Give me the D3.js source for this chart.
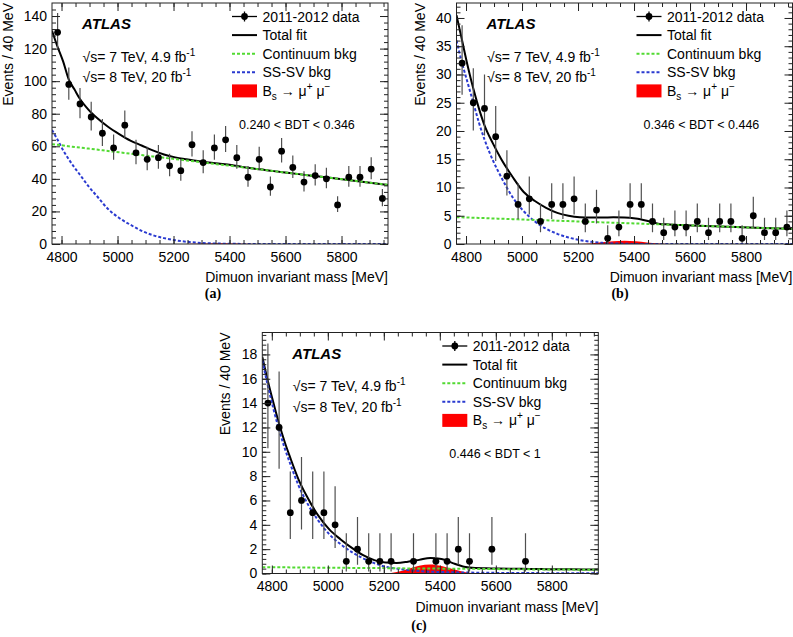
<!DOCTYPE html>
<html><head><meta charset="utf-8">
<script src="https://cdn.jsdelivr.net/npm/d3@7"></script>
<style>
body{margin:0;background:#fff}
svg{display:block}
text{font-family:"Liberation Sans",Arial,Helvetica,sans-serif;fill:#000}
</style>
</head><body>
<svg id="chart" width="793" height="637"></svg>
<script>
// ---------------- DATA ----------------
const binCenters = [4786,4826,4866,4906,4946,4986,5026,5066,5106,5146,5186,5226,5266,5306,5346,5386,5426,5466,5506,5546,5586,5626,5666,5706,5746,5786,5826,5866,5906,5946];

const countsA = [130,98,86,78,68,59,73,56,52,53,48,45,61,50,59,64,53,41,52,35,57,47,38,42,40,24,41,41,46,28];
const errDownA = [10.9,9.4,8.8,8.3,7.8,7.2,8.0,7.0,6.7,6.8,6.4,6.2,7.3,6.6,7.2,7.5,6.8,5.9,6.7,5.4,7.0,6.4,5.7,6.0,5.8,4.4,5.9,5.9,6.3,4.8];
const errUpA = [11.9,10.4,9.8,9.3,8.8,8.2,9.0,8.0,7.7,7.8,7.4,7.2,8.3,7.6,8.2,8.5,7.8,6.9,7.7,6.4,8.1,7.4,6.7,7.0,6.8,5.4,6.9,6.9,7.3,5.8];

const countsB = [32,25,24,19,12,7,8,4,7,7,8,4,6,1,3,7,7,4,2,3,3,4,2,4,4,1,5,2,2,3];
const errDownB = [5.6,4.9,4.8,4.3,3.4,2.58,2.77,1.91,2.58,2.58,2.77,1.91,2.38,0.83,1.63,2.58,2.58,1.91,1.29,1.63,1.63,1.91,1.29,1.91,1.91,0.83,2.16,1.29,1.29,1.63];
const errUpB = [6.7,6.1,6.0,5.4,4.6,3.77,3.95,3.16,3.77,3.77,3.95,3.16,3.58,2.30,2.92,3.77,3.77,3.16,2.64,2.92,2.92,3.16,2.64,3.16,3.16,2.30,3.38,2.64,2.64,2.92];

const countsC = [14,12,5,6,5,5,4,1,2,1,1,1,0,1,0,1,1,2,1,0,2,0,0,1,0,0,0,0,0,0];
const errDownC = [3.7,3.4,2.16,2.38,2.16,2.16,1.91,0.83,1.29,0.83,0.83,0.83,0,0.83,0,0.83,0.83,1.29,0.83,0,1.29,0,0,0.83,0,0,0,0,0,0];
const errUpC = [4.9,4.6,3.38,3.58,3.38,3.38,3.16,2.30,2.64,2.30,2.30,2.30,0,2.30,0,2.30,2.30,2.64,2.30,0,2.64,0,0,2.30,0,0,0,0,0,0];

const fitMass = [4766,4786,4806,4826,4846,4866,4896,4926,4966,5006,5046,5086,5126,5166,5206,5246,5286,5326,5366,5406,5446,5486,5526,5566,5606,5686,5766,5866,5966];

const totalA = [131,121,112,101,95,89,82.5,77.5,72,67.5,63.5,60.5,57.5,55,53.2,52,51,50,49.3,48.5,47.3,46.3,45.5,44.6,43.8,42.1,40.5,38.4,36.3];
const contA  = [61.3,60.9,60.5,60.0,59.6,59.2,58.6,58.0,57.1,56.3,55.5,54.6,53.8,53.0,52.1,51.3,50.5,49.6,48.8,48.0,47.1,46.3,45.5,44.6,43.8,42.1,40.5,38.4,36.3];
const sssvA  = [70,64,57.5,52,47,42.5,35.5,29.5,21.5,16,11.8,8.1,5.4,3.6,2.3,1.4,0.8,0.45,0.25,0.12,0.06,0.03,0,0,0,0,0,0,0];

const totalB = [40.5,36,31.5,27.5,24,21,17.8,15,11.9,9.2,7.6,6.4,5.5,5.0,4.75,4.7,4.7,4.72,4.7,4.5,4.1,3.6,3.45,3.36,3.29,3.14,3.0,2.83,2.65];
const contB  = [4.75,4.72,4.68,4.65,4.61,4.58,4.52,4.47,4.40,4.33,4.26,4.19,4.12,4.05,3.98,3.91,3.84,3.77,3.70,3.63,3.56,3.49,3.42,3.35,3.28,3.14,3.0,2.83,2.65];
const sssvB  = [36,32,28.5,25,21.5,18.5,14.8,11.8,8.3,5.8,4.0,2.7,1.8,1.15,0.7,0.4,0.2,0.1,0.05,0,0,0,0,0,0,0,0,0,0];

const totalC = [17.8,15.8,14.0,12.3,10.8,9.5,7.7,6.3,4.75,3.6,2.8,2.1,1.5,1.1,0.9,0.87,0.97,1.12,1.28,1.2,0.85,0.56,0.45,0.43,0.41,0.39,0.36,0.34,0.32];
const contC  = [0.52,0.52,0.51,0.51,0.51,0.50,0.50,0.49,0.48,0.48,0.47,0.46,0.45,0.45,0.44,0.43,0.42,0.42,0.41,0.40,0.39,0.39,0.38,0.37,0.36,0.35,0.33,0.32,0.30];
const sssvC  = [17.5,15.4,13.5,11.8,10.3,9.0,7.2,5.8,4.35,3.2,2.4,1.75,1.25,0.85,0.55,0.4,0.28,0.2,0.15,0.12,0.1,0.08,0.07,0.06,0.05,0.04,0.03,0.02,0.02];

const bsMass = [5206,5246,5286,5326,5366,5406,5446,5486,5526];
const bsA = [0,0.06,0.2,0.34,0.4,0.33,0.19,0.06,0];
const bsB = [0,0.1,0.3,0.5,0.58,0.48,0.28,0.09,0];
const bsC = [0,0.12,0.38,0.64,0.74,0.62,0.36,0.12,0];

const xTicks = [4800,5000,5200,5400,5600,5800];
const yTicksA = [0,20,40,60,80,100,120,140];
const yTicksB = [0,5,10,15,20,25,30,35,40];
const yTicksC = [0,2,4,6,8,10,12,14,16,18];

const bdtLabels = ["0.240 < BDT < 0.346","0.346 < BDT < 0.446","0.446 < BDT < 1"];
const panelLabels = ["(a)","(b)","(c)"];
const legendLabels = ["2011-2012 data","Total fit","Continuum bkg","SS-SV bkg"];

// ---------------- LAYOUT ----------------
const COL = {green:"#52da32", blue:"#2a3ad0", red:"#ff0000", black:"#000"};
const svg = d3.select("#chart");
const W = 336, H = 241;
const xDomain = [4766, 5966];

const panels = [
  {id:"a", left:52, top:3, ymax:148, yTicks:yTicksA, yMinor:4, ytitleOff:44, labelX:213, labelY:298,
   counts:countsA, eDn:errDownA, eUp:errUpA, total:totalA, cont:contA, sssv:sssvA, bs:bsA, bdt:bdtLabels[0], name:panelLabels[0]},
  {id:"b", left:456.5, top:3, ymax:42.65, yTicks:yTicksB, yMinor:1, ytitleOff:36.5, labelX:620, labelY:298,
   counts:countsB, eDn:errDownB, eUp:errUpB, total:totalB, cont:contB, sssv:sssvB, bs:bsB, bdt:bdtLabels[1], name:panelLabels[1]},
  {id:"c", left:262.3, top:332.5, ymax:19.8, yTicks:yTicksC, yMinor:0.4, ytitleOff:37, labelX:419, labelY:630,
   counts:countsC, eDn:errDownC, eUp:errUpC, total:totalC, cont:contC, sssv:sssvC, bs:bsC, bdt:bdtLabels[2], name:panelLabels[2]}
];

function drawPanel(p){
  const g = svg.append("g").attr("transform",`translate(${p.left},${p.top})`);
  const x = d3.scaleLinear().domain(xDomain).range([0,W]);
  const y = d3.scaleLinear().domain([0,p.ymax]).range([H,0]);

  const clipId = "clip-"+p.id;
  svg.append("clipPath").attr("id",clipId).append("rect").attr("x",0).attr("y",0).attr("width",W).attr("height",H);
  const plot = g.append("g").attr("clip-path",`url(#${clipId})`);

  // Bs signal area
  const area = d3.area().x((d,i)=>x(bsMass[i])).y0(y(0)).y1(d=>y(d)).curve(d3.curveMonotoneX);
  plot.append("path").datum(p.bs).attr("d",area).attr("fill",COL.red);

  const line = d3.line().x((d,i)=>x(fitMass[i])).y(d=>y(d)).curve(d3.curveMonotoneX);
  plot.append("path").datum(p.total).attr("d",line).attr("fill","none").attr("stroke",COL.black).attr("stroke-width",2);
  plot.append("path").datum(p.sssv).attr("d",line).attr("fill","none").attr("stroke",COL.blue).attr("stroke-width",2).attr("stroke-dasharray","3,2");
  plot.append("path").datum(p.cont).attr("d",line).attr("fill","none").attr("stroke",COL.green).attr("stroke-width",2).attr("stroke-dasharray","3,2");

  // data points
  const pts = binCenters.map((m,i)=>({m, n:p.counts[i], dn:p.eDn[i], up:p.eUp[i]})).filter(d=>d.n>0);
  const dg = plot.append("g");
  dg.selectAll("line.err").data(pts).join("line").attr("class","err")
    .attr("x1",d=>x(d.m)).attr("x2",d=>x(d.m))
    .attr("y1",d=>y(d.n-d.dn)).attr("y2",d=>y(d.n+d.up))
    .attr("stroke","#505050").attr("stroke-width",1.2);
  dg.selectAll("circle").data(pts).join("circle")
    .attr("cx",d=>x(d.m)).attr("cy",d=>y(d.n)).attr("r",3.4).attr("fill","#000");

  // axes (ROOT style, ticks inside on four sides)
  const xMinor = d3.range(4800, xDomain[1], 50);
  const yMinorVals = d3.range(0, p.ymax, p.yMinor);
  const fmt = d3.format("d");
  const axStyle = sel => { sel.select(".domain").remove(); sel.selectAll("line").attr("stroke","#222"); sel.selectAll("text").style("font-size","14px").style("font-family",'"Liberation Sans",Arial,sans-serif'); };

  g.append("g").attr("transform",`translate(0,${H})`).call(d3.axisBottom(x).tickValues(xTicks).tickFormat(fmt).tickSizeInner(-8).tickSizeOuter(0).tickPadding(8)).call(axStyle);
  g.append("g").attr("transform",`translate(0,${H})`).call(d3.axisBottom(x).tickValues(xMinor).tickFormat("").tickSizeInner(-4).tickSizeOuter(0)).call(axStyle);
  g.append("g").call(d3.axisTop(x).tickValues(xTicks).tickFormat("").tickSizeInner(-8).tickSizeOuter(0)).call(axStyle);
  g.append("g").call(d3.axisTop(x).tickValues(xMinor).tickFormat("").tickSizeInner(-4).tickSizeOuter(0)).call(axStyle);

  g.append("g").call(d3.axisLeft(y).tickValues(p.yTicks).tickFormat(fmt).tickSizeInner(-8).tickSizeOuter(0).tickPadding(5)).call(axStyle);
  g.append("g").call(d3.axisLeft(y).tickValues(yMinorVals).tickFormat("").tickSizeInner(-4).tickSizeOuter(0)).call(axStyle);
  g.append("g").attr("transform",`translate(${W},0)`).call(d3.axisRight(y).tickValues(p.yTicks).tickFormat("").tickSizeInner(-8).tickSizeOuter(0)).call(axStyle);
  g.append("g").attr("transform",`translate(${W},0)`).call(d3.axisRight(y).tickValues(yMinorVals).tickFormat("").tickSizeInner(-4).tickSizeOuter(0)).call(axStyle);

  g.append("rect").attr("x",0).attr("y",0).attr("width",W).attr("height",H).attr("fill","none").attr("stroke","#222").attr("stroke-width",1);

  g.append("text").attr("x",W).attr("y",H+38).attr("text-anchor","end").style("font-size","14px").text("Dimuon invariant mass [MeV]");
  g.append("text").attr("transform",`translate(${-p.ytitleOff},0) rotate(-90)`).attr("dy","0.35em").attr("text-anchor","end").style("font-size","14px").text("Events / 40 MeV");

  g.append("text").attr("x",30).attr("y",26).style("font-size","15px").style("font-weight","bold").style("font-style","italic").text("ATLAS");
  const e1 = g.append("text").attr("x",30.5).attr("y",58.5).style("font-size","14px");
  e1.append("tspan").text("√s= 7 TeV, 4.9 fb");
  e1.append("tspan").attr("dy",-6).style("font-size","10px").text("-1");
  const e2 = g.append("text").attr("x",30.5).attr("y",79).style("font-size","14px");
  e2.append("tspan").text("√s= 8 TeV, 20 fb");
  e2.append("tspan").attr("dy",-6).style("font-size","10px").text("-1");

  g.append("text").attr("x",187).attr("y",125.5).style("font-size","12.5px").text(p.bdt);

  const lx0 = 180, lx1 = 205, tx = 210.5, ly = i => 13.5 + 18.6*i;
  const lg = g.append("g");
  lg.append("line").attr("x1",lx0).attr("x2",lx1).attr("y1",ly(0)).attr("y2",ly(0)).attr("stroke","#000").attr("stroke-width",1.3);
  lg.append("line").attr("x1",(lx0+lx1)/2).attr("x2",(lx0+lx1)/2).attr("y1",ly(0)-5).attr("y2",ly(0)+5).attr("stroke","#000").attr("stroke-width",1.3);
  lg.append("circle").attr("cx",(lx0+lx1)/2).attr("cy",ly(0)).attr("r",3.4).attr("fill","#000");
  lg.append("line").attr("x1",lx0).attr("x2",lx1).attr("y1",ly(1)).attr("y2",ly(1)).attr("stroke","#000").attr("stroke-width",2);
  lg.append("line").attr("x1",lx0).attr("x2",lx1).attr("y1",ly(2)).attr("y2",ly(2)).attr("stroke",COL.green).attr("stroke-width",2).attr("stroke-dasharray","3,2");
  lg.append("line").attr("x1",lx0).attr("x2",lx1).attr("y1",ly(3)).attr("y2",ly(3)).attr("stroke",COL.blue).attr("stroke-width",2).attr("stroke-dasharray","3,2");
  lg.append("rect").attr("x",lx0).attr("y",ly(4)-6.5).attr("width",lx1-lx0).attr("height",13).attr("fill",COL.red);
  legendLabels.forEach((t,i)=>{
    lg.append("text").attr("x",tx).attr("y",ly(i)).attr("dy","0.36em").style("font-size","14px").text(t);
  });
  const bt = lg.append("text").attr("x",tx).attr("y",ly(4)).attr("dy","0.36em").style("font-size","14px");
  bt.append("tspan").text("B");
  bt.append("tspan").attr("dy",4).style("font-size","10px").text("s");
  bt.append("tspan").attr("dy",-4).text(" → μ");
  bt.append("tspan").attr("dy",-6).style("font-size","10px").text("+");
  bt.append("tspan").attr("dy",6).text(" μ");
  bt.append("tspan").attr("dy",-6).style("font-size","10px").text("−");

  svg.append("text").attr("x",p.labelX).attr("y",p.labelY).attr("text-anchor","middle")
    .style("font-family",'"Liberation Serif","Times New Roman",serif').style("font-weight","bold").style("font-size","14px").text(p.name);
}

panels.forEach(drawPanel);
</script>
</body></html>
